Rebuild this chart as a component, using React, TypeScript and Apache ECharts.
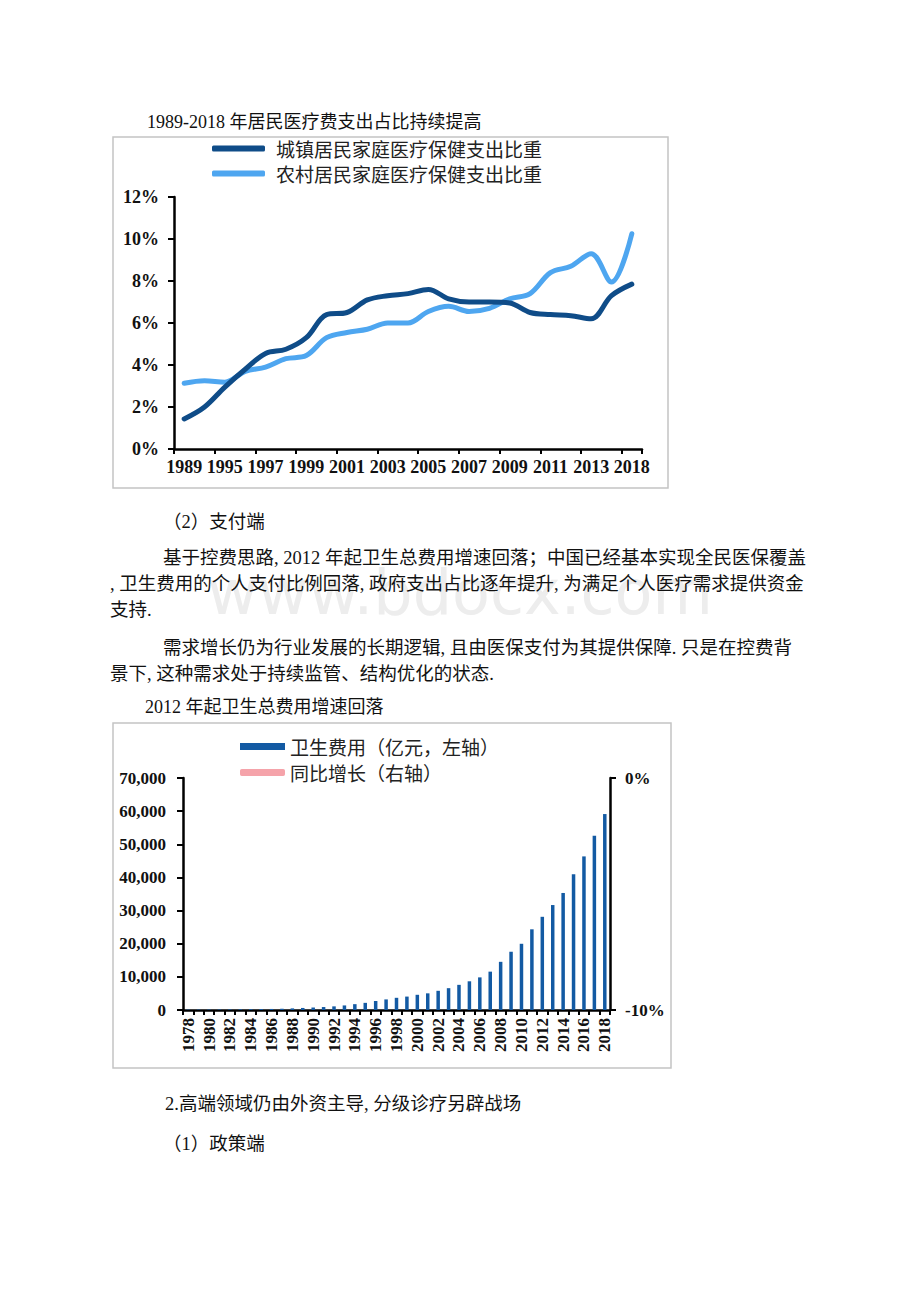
import React, { useEffect, useRef } from "react";
import * as echarts from "echarts";

// ---- Chart 1 data ----
const years1 = ["1989", "1993", "1995", "1996", "1997", "1998", "1999", "2000", "2001", "2002", "2003", "2004", "2005", "2006", "2007", "2008", "2009", "2010", "2011", "2012", "2013", "2015", "2018"];
const urbanShare = [1.43, 2.0, 2.95, 3.8, 4.55, 4.75, 5.3, 6.4, 6.5, 7.1, 7.3, 7.4, 7.6, 7.15, 7.0, 7.0, 6.95, 6.5, 6.4, 6.35, 6.2, 7.3, 7.85];
const ruralShare = [3.13, 3.25, 3.18, 3.7, 3.9, 4.3, 4.45, 5.3, 5.55, 5.7, 6.0, 6.0, 6.55, 6.8, 6.55, 6.7, 7.15, 7.4, 8.4, 8.7, 9.3, 7.95, 10.25];
const urbanName = "城镇居民家庭医疗保健支出比重";
const ruralName = "农村居民家庭医疗保健支出比重";

// ---- Chart 2 data ----
const years2 = ["1978", "1979", "1980", "1981", "1982", "1983", "1984", "1985", "1986", "1987", "1988", "1989", "1990", "1991", "1992", "1993", "1994", "1995", "1996", "1997", "1998", "1999", "2000", "2001", "2002", "2003", "2004", "2005", "2006", "2007", "2008", "2009", "2010", "2011", "2012", "2013", "2014", "2015", "2016", "2017", "2018"];
const healthSpend = [110, 126, 143, 160, 178, 207, 242, 279, 316, 380, 488, 616, 747, 893, 1097, 1378, 1761, 2155, 2709, 3197, 3679, 4048, 4587, 5026, 5790, 6584, 7590, 8660, 9843, 11574, 14535, 17542, 19980, 24346, 28119, 31669, 35312, 40975, 46345, 52598, 59122];
const yoyGrowth: number[] = [];
const spendName = "卫生费用（亿元，左轴）";
const growthName = "同比增长（右轴）";

// ---- Page text ----
const title1 = "1989-2018 年居民医疗费支出占比持续提高";
const title2 = "2012 年起卫生总费用增速回落";
const bodyLines = [
  { t: "（2）支付端", x: 163, y: 522 },
  { t: "基于控费思路, 2012 年起卫生总费用增速回落；中国已经基本实现全民医保覆盖", x: 163, y: 558 },
  { t: ", 卫生费用的个人支付比例回落, 政府支出占比逐年提升, 为满足个人医疗需求提供资金", x: 110, y: 584 },
  { t: "支持.", x: 110, y: 610 },
  { t: "需求增长仍为行业发展的长期逻辑, 且由医保支付为其提供保障. 只是在控费背", x: 163, y: 648 },
  { t: "景下, 这种需求处于持续监管、结构优化的状态.", x: 110, y: 674 },
  { t: "2.高端领域仍由外资主导, 分级诊疗另辟战场", x: 165, y: 1104 },
  { t: "（1）政策端", x: 163, y: 1144 },
];
const watermark = "www.bdocx.com";

const serif = '"Liberation Serif", "Noto Sans CJK SC", serif';
const cjk = '"Noto Sans CJK SC", sans-serif';

export default function App() {
  const ref = useRef<HTMLDivElement>(null);
  useEffect(() => {
    if (!ref.current) return;
    const chart = echarts.init(ref.current, undefined, { renderer: "svg" });
    const axisLabelStyle = { fontFamily: serif, fontWeight: "bold" as const, color: "#111" };
    const blackLine = { lineStyle: { color: "#000", width: 2.5 } };

    const graphics: any[] = [
      {
        type: "text",
        z: 0,
        style: { text: watermark, x: 460, y: 592, align: "center", verticalAlign: "middle", font: '62px "DejaVu Sans", sans-serif', fill: "#ededed" },
      },
      {
        type: "rect",
        shape: { x: 113, y: 137, width: 555, height: 351 },
        style: { fill: "none", stroke: "#c4c4c4", lineWidth: 1.5 },
      },
      {
        type: "rect",
        shape: { x: 113, y: 723, width: 558, height: 345 },
        style: { fill: "none", stroke: "#c4c4c4", lineWidth: 1.5 },
      },
      {
        type: "text",
        style: { text: title1, x: 147, y: 122, verticalAlign: "middle", font: "18px " + serif, fill: "#111" },
      },
      {
        type: "text",
        style: { text: title2, x: 145, y: 707, verticalAlign: "middle", font: "18px " + serif, fill: "#111" },
      },
      ...bodyLines.map((l) => ({
        type: "text",
        style: { text: l.t, x: l.x, y: l.y, verticalAlign: "middle", font: "18.5px " + serif, fill: "#111" },
      })),
    ];

    chart.setOption({
      animation: false,
      legend: [
        {
          orient: "vertical",
          left: 212,
          top: 139,
          padding: 0,
          itemGap: 6,
          itemWidth: 53,
          itemHeight: 6,
          icon: "roundRect",
          data: [urbanName, ruralName],
          textStyle: { fontFamily: cjk, fontSize: 19, color: "#222", padding: [0, 0, 0, 6] },
        },
        {
          orient: "vertical",
          left: 240,
          top: 737,
          padding: 0,
          itemGap: 7,
          itemWidth: 45,
          itemHeight: 7,
          data: [
            { name: spendName, icon: "rect" },
            { name: growthName, icon: "roundRect" },
          ],
          textStyle: { fontFamily: cjk, fontSize: 19, color: "#222" },
        },
      ],
      grid: [
        { left: 174, top: 197, width: 468, height: 252 },
        { left: 183, top: 778, width: 427, height: 232 },
      ],
      xAxis: [
        {
          type: "category",
          gridIndex: 0,
          data: years1,
          boundaryGap: true,
          axisLine: blackLine,
          axisTick: { show: true, length: 5, lineStyle: { color: "#000", width: 2 } },
          axisLabel: { ...axisLabelStyle, fontSize: 18, interval: 1, margin: 9 },
        },
        {
          type: "category",
          gridIndex: 1,
          data: years2,
          boundaryGap: true,
          axisLine: blackLine,
          axisTick: { show: true, length: 5, interval: 0, lineStyle: { color: "#000", width: 2 } },
          axisLabel: { ...axisLabelStyle, fontSize: 17, interval: 1, rotate: 90, margin: 8 },
        },
      ],
      yAxis: [
        {
          type: "value",
          gridIndex: 0,
          min: 0,
          max: 12,
          interval: 2,
          splitLine: { show: false },
          axisLine: { show: true, ...blackLine },
          axisTick: { show: true, length: 6, lineStyle: { color: "#000", width: 2 } },
          axisLabel: { ...axisLabelStyle, fontSize: 18, margin: 15, formatter: "{value}%" },
        },
        {
          type: "value",
          gridIndex: 1,
          min: 0,
          max: 70000,
          interval: 10000,
          splitLine: { show: false },
          axisLine: { show: true, ...blackLine },
          axisTick: { show: true, length: 6, lineStyle: { color: "#000", width: 2 } },
          axisLabel: {
            ...axisLabelStyle,
            fontSize: 17,
            margin: 17,
            formatter: (v: number) => v.toLocaleString("en-US"),
          },
        },
        {
          type: "value",
          gridIndex: 1,
          position: "right",
          min: -10,
          max: 0,
          interval: 10,
          splitLine: { show: false },
          axisLine: { show: true, onZero: false, ...blackLine },
          axisTick: { show: true, length: 6, lineStyle: { color: "#000", width: 2 } },
          axisLabel: { ...axisLabelStyle, fontSize: 17, margin: 15, formatter: "{value}%" },
        },
      ],
      series: [
        {
          name: urbanName,
          type: "line",
          xAxisIndex: 0,
          yAxisIndex: 0,
          data: urbanShare,
          smooth: 0.35,
          showSymbol: false,
          lineStyle: { width: 5, color: "#0f4c88", cap: "round" },
          itemStyle: { color: "#0f4c88" },
          z: 3,
        },
        {
          name: ruralName,
          type: "line",
          xAxisIndex: 0,
          yAxisIndex: 0,
          data: ruralShare,
          smooth: 0.35,
          showSymbol: false,
          lineStyle: { width: 5, color: "#4ea6f0", cap: "round" },
          itemStyle: { color: "#4ea6f0" },
          z: 2,
        },
        {
          name: spendName,
          type: "bar",
          xAxisIndex: 1,
          yAxisIndex: 1,
          data: healthSpend,
          barWidth: 3.5,
          itemStyle: { color: "#135aa3" },
        },
        {
          name: growthName,
          type: "line",
          xAxisIndex: 1,
          yAxisIndex: 2,
          data: yoyGrowth,
          showSymbol: false,
          lineStyle: { width: 4, color: "#f5a3aa" },
          itemStyle: { color: "#f5a3aa" },
        },
      ],
      graphic: graphics,
    });
    return () => chart.dispose();
  }, []);

  return (
    <div
      ref={ref}
      style={{ position: "absolute", left: 0, top: 0, width: 920, height: 1302, background: "#fff" }}
    />
  );
}
